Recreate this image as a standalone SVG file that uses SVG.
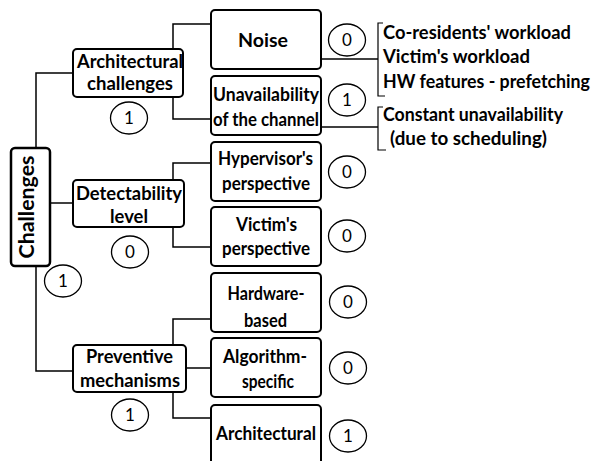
<svg xmlns="http://www.w3.org/2000/svg" width="595" height="461" viewBox="0 0 595 461">
<style>
.box{fill:#fff;stroke:#000;stroke-width:2}
.cb{fill:#fff;stroke:#000;stroke-width:2.5}
.con{fill:none;stroke:#000;stroke-width:1.5}
.br{fill:none;stroke:#000;stroke-width:1.2}
.cir{fill:#fff;stroke:#000;stroke-width:1.3}
.t{font-family:Lato,"Liberation Sans",Arial,sans-serif;font-weight:bold;font-size:18px;fill:#000;text-anchor:middle}
.r{font-family:Lato,"Liberation Sans",Arial,sans-serif;font-weight:bold;font-size:18px;fill:#000}
.n{font-family:Lato,"Liberation Sans",Arial,sans-serif;font-size:17px;fill:#000;text-anchor:middle}
</style>
<rect width="595" height="461" fill="#fff"/>
<g id="connectors">
<path class="con" d="M73,73 H36 V148"/>
<path class="con" d="M50,203 H73"/>
<path class="con" d="M36,266 V371 H73"/>
<path class="con" d="M173,49 V24 H211"/>
<path class="con" d="M173,97 V119 H211"/>
<path class="con" d="M173,180 V163 H211"/>
<path class="con" d="M173,227 V247 H211"/>
<path class="con" d="M173,345 V319 H211"/>
<path class="con" d="M186,368 H211"/>
<path class="con" d="M173,392 V418 H211"/>
<path class="con" d="M321,59 H378"/>
<path class="con" d="M321,127 H378"/>
<path class="br" d="M383,23 H378 V96 H385"/>
<path class="br" d="M383,107 H378 V150 H386"/>
</g>
<g id="challenges">
<rect class="cb" x="11" y="148" width="39" height="118" rx="4"/>
<text class="t" transform="translate(34,207) rotate(-90)" style="font-size:20px" textLength="103" lengthAdjust="spacingAndGlyphs">Challenges</text>
<ellipse class="cir" cx="63" cy="281" rx="18.5" ry="16"/>
<text class="n" x="63" y="287">1</text>
</g>
<g id="architectural-challenges">
<rect class="box" x="73" y="49" width="110" height="48" rx="4"/>
<text class="t" x="130" y="67.5" textLength="106" lengthAdjust="spacingAndGlyphs">Architectural</text>
<text class="t" x="130" y="90" textLength="86" lengthAdjust="spacingAndGlyphs">challenges</text>
<ellipse class="cir" cx="129" cy="118" rx="18.5" ry="16"/>
<text class="n" x="129" y="124">1</text>
</g>
<g id="detectability-level">
<rect class="box" x="73" y="180" width="111" height="47" rx="4"/>
<text class="t" x="129" y="200" textLength="106" lengthAdjust="spacingAndGlyphs">Detectability</text>
<text class="t" x="129" y="223" textLength="38" lengthAdjust="spacingAndGlyphs">level</text>
<ellipse class="cir" cx="130" cy="252" rx="18.5" ry="16"/>
<text class="n" x="130" y="258">0</text>
</g>
<g id="preventive-mechanisms">
<rect class="box" x="73" y="345" width="113" height="47" rx="4"/>
<text class="t" x="129.5" y="363" textLength="87" lengthAdjust="spacingAndGlyphs">Preventive</text>
<text class="t" x="130" y="387" textLength="100" lengthAdjust="spacingAndGlyphs">mechanisms</text>
<ellipse class="cir" cx="130" cy="415" rx="18.5" ry="16"/>
<text class="n" x="130" y="421">1</text>
</g>
<g id="noise">
<rect class="box" x="211" y="10" width="110" height="59" rx="4"/>
<text class="t" x="263" y="47" textLength="50" lengthAdjust="spacingAndGlyphs">Noise</text>
<ellipse class="cir" cx="347" cy="40" rx="18.5" ry="16"/>
<text class="n" x="347" y="46">0</text>
</g>
<g id="unavailability">
<rect class="box" x="211" y="76" width="110" height="59" rx="4"/>
<text class="t" x="266" y="101" textLength="106" lengthAdjust="spacingAndGlyphs">Unavailability</text>
<text class="t" x="266" y="126" textLength="106" lengthAdjust="spacingAndGlyphs">of the channel</text>
<ellipse class="cir" cx="347" cy="100" rx="18.5" ry="16"/>
<text class="n" x="347" y="106">1</text>
</g>
<g id="hypervisor-perspective">
<rect class="box" x="211" y="142" width="110" height="59" rx="4"/>
<text class="t" x="265.5" y="165" textLength="95" lengthAdjust="spacingAndGlyphs">Hypervisor's</text>
<text class="t" x="266" y="190" textLength="88" lengthAdjust="spacingAndGlyphs">perspective</text>
<ellipse class="cir" cx="347" cy="172" rx="18.5" ry="16"/>
<text class="n" x="347" y="178">0</text>
</g>
<g id="victim-perspective">
<rect class="box" x="211" y="207" width="110" height="59" rx="4"/>
<text class="t" x="266.5" y="231" textLength="61" lengthAdjust="spacingAndGlyphs">Victim's</text>
<text class="t" x="266" y="255" textLength="88" lengthAdjust="spacingAndGlyphs">perspective</text>
<ellipse class="cir" cx="347" cy="236" rx="18.5" ry="16"/>
<text class="n" x="347" y="242">0</text>
</g>
<g id="hardware-based">
<rect class="box" x="211" y="273" width="110" height="59" rx="4"/>
<text class="t" x="266" y="299.5" textLength="77" lengthAdjust="spacingAndGlyphs">Hardware-</text>
<text class="t" x="265.5" y="327" textLength="43" lengthAdjust="spacingAndGlyphs">based</text>
<ellipse class="cir" cx="348" cy="302" rx="18.5" ry="16"/>
<text class="n" x="348" y="308">0</text>
</g>
<g id="algorithm-specific">
<rect class="box" x="211" y="338" width="110" height="59" rx="4"/>
<text class="t" x="265" y="363" textLength="84" lengthAdjust="spacingAndGlyphs">Algorithm-</text>
<text class="t" x="268" y="388" textLength="52" lengthAdjust="spacingAndGlyphs">specific</text>
<ellipse class="cir" cx="348" cy="368" rx="18.5" ry="16"/>
<text class="n" x="348" y="374">0</text>
</g>
<g id="architectural">
<rect class="box" x="211" y="405" width="110" height="66" rx="4"/>
<text class="t" x="266" y="440" textLength="100" lengthAdjust="spacingAndGlyphs">Architectural</text>
<ellipse class="cir" cx="348" cy="436" rx="18.5" ry="16"/>
<text class="n" x="348" y="442">1</text>
</g>
<g id="noise-factors">
<text class="r" x="383" y="39" textLength="188" lengthAdjust="spacingAndGlyphs">Co-residents' workload</text>
<text class="r" x="383" y="63" textLength="147" lengthAdjust="spacingAndGlyphs">Victim's workload</text>
<text class="r" x="383" y="87.5" textLength="207" lengthAdjust="spacingAndGlyphs">HW features - prefetching</text>
</g>
<g id="unavailability-factors">
<text class="r" x="383" y="121" textLength="180" lengthAdjust="spacingAndGlyphs">Constant unavailability</text>
<text class="r" x="390" y="144.5" textLength="157" lengthAdjust="spacingAndGlyphs">(due to scheduling)</text>
</g>
</svg>
